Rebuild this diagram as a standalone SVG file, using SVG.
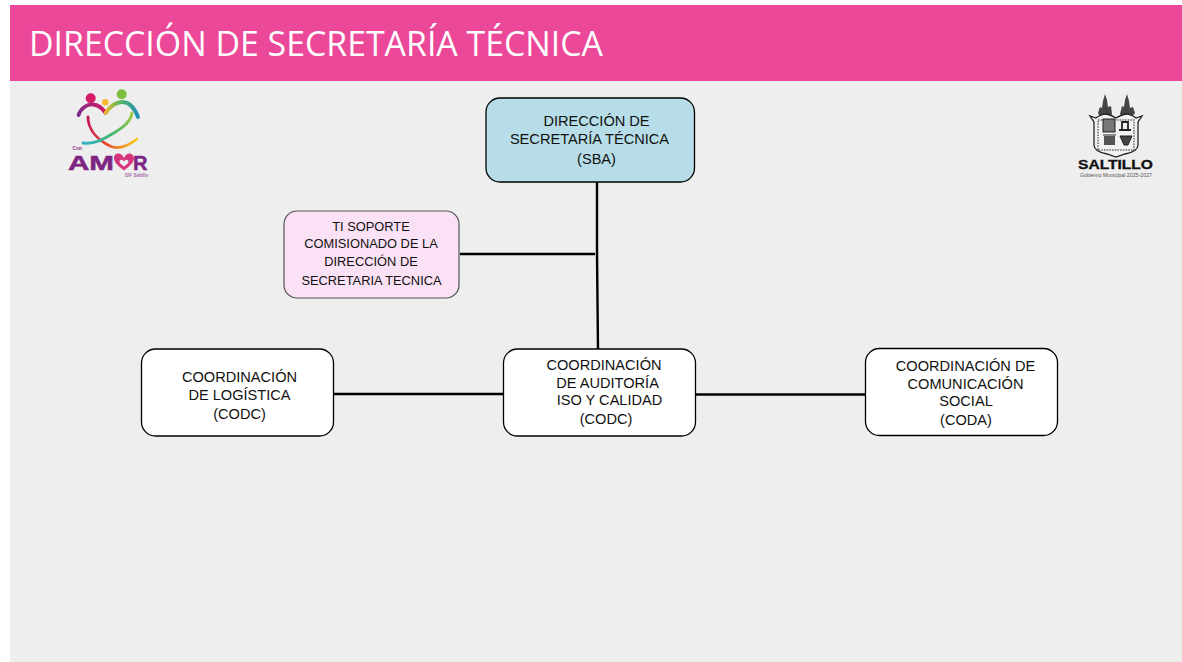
<svg xmlns="http://www.w3.org/2000/svg" width="1182" height="662" viewBox="0 0 1182 662">
<style>
.n{stroke:#000;stroke-width:1.3}
.t{font-family:"Liberation Sans",Arial,sans-serif;font-size:14.6px;fill:#111;text-anchor:middle}
.s{font-size:12.85px}
.c{stroke:#000;stroke-width:2.4;fill:none}
.l{font-family:"Liberation Sans",Arial,sans-serif;font-weight:bold}
.a{fill:none;stroke-linecap:round}
</style>
<defs>
<linearGradient id="g1" gradientUnits="userSpaceOnUse" x1="83" y1="143" x2="132" y2="113"><stop offset="0" stop-color="#2fb5c9"/><stop offset=".5" stop-color="#3fb56f"/><stop offset="1" stop-color="#9ccc3c"/></linearGradient>
<linearGradient id="g2" gradientUnits="userSpaceOnUse" x1="88" y1="117" x2="137" y2="139"><stop offset="0" stop-color="#c2185b"/><stop offset=".55" stop-color="#e8502c"/><stop offset="1" stop-color="#f7c81e"/></linearGradient>
<linearGradient id="g3" gradientUnits="userSpaceOnUse" x1="78" y1="115" x2="106" y2="105"><stop offset="0" stop-color="#7b2d8e"/><stop offset="1" stop-color="#d81b60"/></linearGradient>
<linearGradient id="g4" gradientUnits="userSpaceOnUse" x1="106" y1="112" x2="138" y2="112"><stop offset="0" stop-color="#e8b82e"/><stop offset=".4" stop-color="#5cb85c"/><stop offset="1" stop-color="#1f8fb5"/></linearGradient>
<filter id="soft" x="-5%" y="-5%" width="110%" height="110%"><feGaussianBlur stdDeviation="0.35"/></filter>
</defs>
<rect width="1182" height="662" fill="#fff"/>
<rect x="10" y="81" width="1172" height="581" fill="#EEEEEE"/>
<rect id="header" x="10" y="5" width="1172" height="76" fill="#EC4899"/>
<text x="29" y="56" font-family="'Open Sans',sans-serif" font-size="34" fill="#fff" textLength="574" lengthAdjust="spacingAndGlyphs">DIRECCIÓN DE SECRETARÍA TÉCNICA</text>

<g id="connectors">
<path class="c" d="M597 182V254"/>
<path class="c" d="M597 254L598 349"/>
<path class="c" d="M460 254H595"/>
<path class="c" d="M334 394H503"/>
<path class="c" d="M696 394.500H865"/>
</g>

<g id="node-direccion">
<rect class="n" x="486" y="98" width="208.500" height="84" rx="14" fill="#B6DDE8"/>
<text class="t" x="596.500" y="126">DIRECCIÓN DE</text>
<text class="t" x="589.500" y="144">SECRETARÍA TÉCNICA</text>
<text class="t" x="596.500" y="164">(SBA)</text>
</g>
<g id="node-ti">
<rect x="284" y="211" width="175" height="87" rx="13" fill="#FBE1F5" stroke="#555" stroke-width="1.200"/>
<text class="t s" x="371" y="231">TI SOPORTE</text>
<text class="t s" x="371" y="248">COMISIONADO DE LA</text>
<text class="t s" x="371" y="266">DIRECCIÓN DE</text>
<text class="t s" x="371.500" y="285">SECRETARIA TECNICA</text>
</g>
<g id="node-logistica">
<rect class="n" x="141.500" y="349" width="192" height="87" rx="14" fill="#fff"/>
<text class="t" x="239.500" y="382">COORDINACIÓN</text>
<text class="t" x="239.500" y="400">DE LOGÍSTICA</text>
<text class="t" x="239.500" y="419">(CODC)</text>
</g>
<g id="node-auditoria">
<rect class="n" x="503.500" y="349" width="192" height="87" rx="14" fill="#fff"/>
<text class="t" x="604" y="370">COORDINACIÓN</text>
<text class="t" x="607.500" y="388">DE AUDITORÍA</text>
<text class="t" x="609.500" y="405">ISO Y CALIDAD</text>
<text class="t" x="606" y="424">(CODC)</text>
</g>
<g id="node-comunicacion">
<rect class="n" x="865.500" y="348.500" width="192" height="87" rx="14" fill="#fff"/>
<text class="t" x="965.500" y="371">COORDINACIÓN DE</text>
<text class="t" x="965.500" y="389">COMUNICACIÓN</text>
<text class="t" x="966" y="406">SOCIAL</text>
<text class="t" x="966" y="425">(CODA)</text>
</g>

<g id="logo-amor">
<g filter="url(#soft)">
<circle cx="90.700" cy="98.300" r="5" fill="#D81B6A"/>
<circle cx="105.300" cy="102.300" r="3.200" fill="#F5B82E"/>
<circle cx="121.700" cy="94.300" r="5" fill="#7DBE3C"/>
<path class="a" d="M88 117C88 130 98 140 110 146C118 150 128 146 137 139" stroke="url(#g2)" stroke-width="2.800"/>
<path class="a" d="M132 113C131 124 116 132 105 138C96 143 90 144 83 143" stroke="url(#g1)" stroke-width="2.800"/>
<path class="a" d="M78.500 115C81 108 87 104 93 104.500C99 105 103 109 105.500 113" stroke="url(#g3)" stroke-width="3.800"/>
<path class="a" d="M105.500 113C109 108 115 102 122 102C130 102 135 109 138 117" stroke="url(#g4)" stroke-width="3.800"/>
<path d="M124 158C121 151 113 153 114 159C115 164 120 167 124 170.500C128 167 133 164 134 159C134 153 127 151 124 158Z" fill="#D5357F"/>
<path d="M124 161.500C122.500 158.500 119 159.500 119.500 162C120 164 122.500 165 124 166.500C125.500 165 128 164 128.500 162C129 159.500 125.500 158.500 124 161.500Z" fill="#EEEEEE"/>
</g>
<text class="l" x="72.500" y="149.500" font-size="4.800" fill="#8E2A7E">Con</text>
<text class="l" x="68" y="169.500" font-size="20" fill="#7E2583" stroke="#7E2583" stroke-width=".5" textLength="46" lengthAdjust="spacingAndGlyphs">AM</text>
<text class="l" x="133" y="169.500" font-size="20" fill="#7E2583" stroke="#7E2583" stroke-width=".5">R</text>
<text class="l" x="125" y="176.500" font-size="4.500" fill="#A66BA6">DIF Saltillo</text>
</g>
<g id="logo-saltillo">
<g filter="url(#soft)">
<path d="M1098 113L1100 107L1102 108L1103 101L1105 94L1107 100L1108 107L1111 106L1112 114L1108 118H1101Z" fill="#444"/>
<path d="M1120 114L1122 106L1124 107L1125 100L1127 94L1129 101L1130 108L1133 107L1135 113L1131 118H1124Z" fill="#444"/>
<path d="M1096 118C1104 112 1109 114 1116 118C1123 114 1128 112 1136 118L1142 116L1138 122V145C1138 151 1130 153 1125 154L1116 157L1107 154C1102 153 1094 151 1094 145V122L1090 116Z" fill="#F2F2F2" stroke="#222" stroke-width="1.300"/>
<rect x="1098" y="120" width="36" height="30" fill="none" stroke="#666" stroke-width="1.500" stroke-dasharray="1.500 1.200"/>
<rect x="1103" y="119" width="12" height="13" fill="#777" stroke="#222"/>
<path d="M1119 130H1131M1122 130V122H1128V130" fill="none" stroke="#222" stroke-width="1.800"/>
<rect x="1104" y="136" width="11" height="9" fill="#555"/>
<path d="M1103 135H1116M1120 136H1132L1128 145H1124Z" fill="#444" stroke="#222"/>
</g>
<text class="l" x="1078" y="169.200" font-size="12" fill="#111" stroke="#111" stroke-width=".3" textLength="75" lengthAdjust="spacingAndGlyphs">SALTILLO</text>
<text x="1080" y="176.700" font-family="'Liberation Sans',sans-serif" font-size="5" fill="#555" textLength="72" lengthAdjust="spacingAndGlyphs">Gobierno Municipal 2025-2027</text>
</g>
</svg>
